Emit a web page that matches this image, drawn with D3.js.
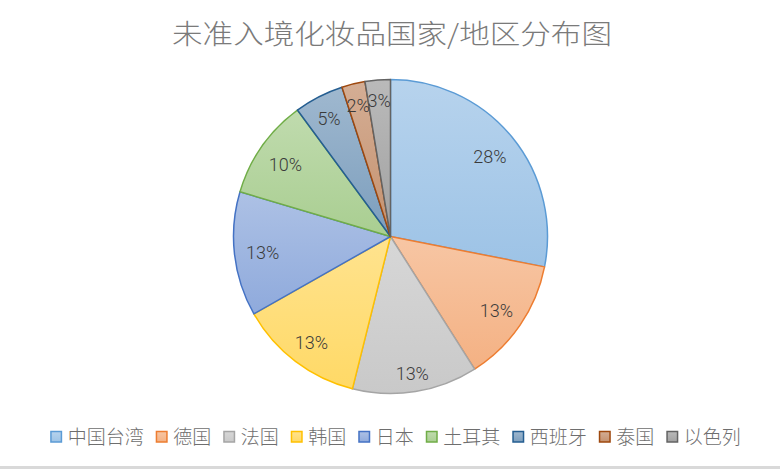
<!DOCTYPE html>
<html>
<head>
<meta charset="utf-8">
<script src="https://cdn.jsdelivr.net/npm/d3@7"></script>
<style>
  body { margin: 0; background: #fff; }
  svg { display: block; }
</style>
</head>
<body>
<script>
const width = 780;
const height = 469;

// data (percent of refused cosmetics by origin)
const regions = ["中国台湾", "德国", "法国", "韩国", "日本", "土耳其", "西班牙", "泰国", "以色列"];
const shares = [28.1, 12.9, 12.9, 12.9, 12.8, 10.3, 5.1, 2.4, 2.6];
const colors = ["#5B9BD5", "#ED7D31", "#A5A5A5", "#FFC000", "#4472C4", "#70AD47", "#255E91", "#9E480E", "#636363"];
const chartTitle = "未准入境化妆品国家/地区分布图";

const cx = 390.5, cy = 236.5, radius = 157;

const svg = d3.select("body")
    .append("svg")
    .attr("width", width)
    .attr("height", height);

// light gradient fills, like the office default style
const defs = svg.append("defs");
colors.forEach((c, i) => {
    const g = defs.append("linearGradient")
        .attr("id", "grad" + i)
        .attr("x1", 0).attr("y1", 0)
        .attr("x2", 0).attr("y2", 1);
    g.append("stop").attr("offset", "0%").attr("stop-color", d3.interpolateRgb(c, "#fff")(0.56));
    g.append("stop").attr("offset", "100%").attr("stop-color", d3.interpolateRgb(c, "#fff")(0.40));
});

// title
svg.append("text")
    .attr("x", 392)
    .attr("y", 44)
    .attr("text-anchor", "middle")
    .attr("textLength", 440)
    .attr("lengthAdjust", "spacingAndGlyphs")
    .style("font-family", "'Noto Sans CJK SC', sans-serif")
    .style("font-size", "27px")
    .style("font-weight", 300)
    .style("fill", "#7a7a7a")
    .text(chartTitle);

const pie = d3.pie().sort(null).value(d => d);
const arcs = pie(shares);
const arc = d3.arc().innerRadius(0).outerRadius(radius);

const pieG = svg.append("g").attr("transform", `translate(${cx},${cy})`);

pieG.selectAll("path")
    .data(arcs)
    .enter()
    .append("path")
    .attr("d", arc)
    .attr("fill", (d, i) => `url(#grad${i})`)
    .attr("stroke", (d, i) => colors[i])
    .attr("stroke-width", 1.5)
    .attr("stroke-linejoin", "round");

// data labels, pushed out until the box touches a fixed ring
const fmt = d3.format(".0%");
const labelSize = 18;
const ring = radius * 0.93;
pieG.selectAll("text.lbl")
    .data(arcs)
    .enter()
    .append("text")
    .attr("class", "lbl")
    .attr("text-anchor", "middle")
    .attr("dy", "0.46em")
    .style("font-family", "Roboto, 'Liberation Sans', sans-serif")
    .style("font-size", labelSize + "px")
    .style("font-weight", 300)
    .style("fill", "#3a3a3a")
    .text(d => fmt(d.value / 100))
    .each(function (d) {
        const a = (d.startAngle + d.endAngle) / 2;
        const hw = this.getComputedTextLength() / 2;
        const hh = labelSize * 0.38;
        const r = ring - (hw * Math.abs(Math.sin(a)) + hh * Math.abs(Math.cos(a)));
        d3.select(this)
            .attr("x", r * Math.sin(a))
            .attr("y", -r * Math.cos(a));
    });

// legend
const legend = svg.append("g");
const items = legend.selectAll("g")
    .data(regions)
    .enter()
    .append("g");

items.append("rect")
    .attr("x", 0.75)
    .attr("y", -5.5)
    .attr("width", 10.5)
    .attr("height", 10.5)
    .attr("fill", (d, i) => `url(#grad${i})`)
    .attr("stroke", (d, i) => colors[i])
    .attr("stroke-width", 1.5);

items.append("text")
    .attr("x", 17.5)
    .attr("dy", "0.37em")
    .style("font-family", "'Noto Sans CJK SC', sans-serif")
    .style("font-size", "19px")
    .style("font-weight", 300)
    .style("fill", "#6e6e6e")
    .text(d => d);

let offset = 0;
items.each(function () {
    const w = this.querySelector("text").getComputedTextLength() + 17.5;
    d3.select(this).attr("transform", `translate(${offset},0)`);
    offset += w + 12;
});
const legendW = offset - 12;
legend.attr("transform", `translate(${395.5 - legendW / 2},437)`);

// bottom edge of the chart area
svg.append("rect")
    .attr("x", 0)
    .attr("y", 466)
    .attr("width", width)
    .attr("height", 3)
    .attr("fill", "#d9d9d9");
</script>
</body>
</html>
